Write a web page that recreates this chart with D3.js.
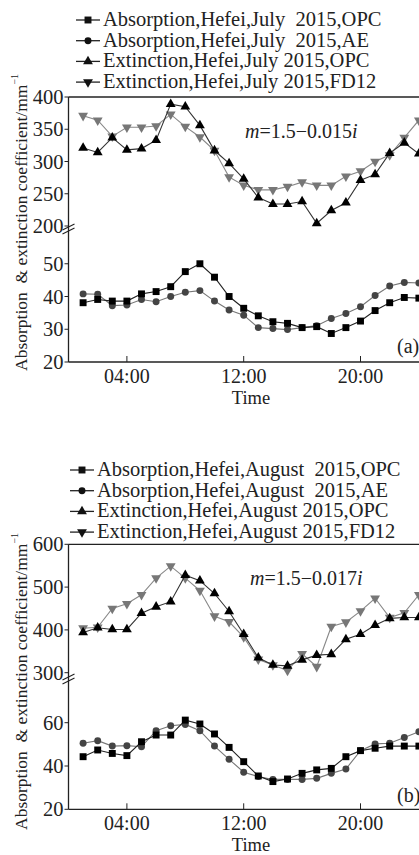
<!DOCTYPE html>
<html><head><meta charset="utf-8">
<script src="https://cdn.jsdelivr.net/npm/d3@7"></script>
<style>
html,body{margin:0;padding:0;background:#fff;}
svg{display:block;font-family:"Liberation Serif","Times New Roman",serif;}
text{white-space:pre;}
</style></head>
<body>
<svg id="c" width="419" height="855"></svg>
<script>
const hours = d3.range(1, 25);
const xTicks = [4, 12, 20];
const xTickLabels = ["04:00", "12:00", "20:00"];

// Panel (a) July
const aAbsOPC = [38.1,39.1,38.6,38.6,40.8,41.5,43.0,47.6,50.0,45.9,40.0,36.4,34.1,32.3,31.8,30.5,30.8,28.7,30.5,32.5,35.7,38.1,39.7,39.5];
const aAbsAE  = [40.8,40.7,37.2,37.4,39.1,38.4,40.0,41.3,41.8,38.6,35.9,34.3,30.5,30.2,29.9,30.5,31.1,33.3,34.8,36.9,40.3,43.2,44.3,44.1];
const aExtOPC = [321,314,337,318,320,333,389,385,356,317,297,273,244,234,234,238,204,224,236,271,280,313,329,312];
const aExtFD12= [371,364,339,353,353,355,373,354,338,317,276,263,256,256,261,268,263,263,277,285,300,310,337,364];
const aLegend = ["Absorption,Hefei,July  2015,OPC","Absorption,Hefei,July  2015,AE","Extinction,Hefei,July 2015,OPC","Extinction,Hefei,July 2015,FD12"];
const aUpperTicks = [200,250,300,350,400];
const aLowerTicks = [20,30,40,50];

// Panel (b) August
const bAbsOPC = [44.3,47.4,45.8,44.8,51.2,54.3,54.3,61.2,59.4,54.8,48.6,42.0,35.4,32.8,34.0,36.6,38.2,38.9,44.3,47.1,48.2,49.2,49.2,49.2];
const bAbsAE  = [50.5,51.7,49.2,49.4,48.9,56.3,58.6,59.2,56.3,49.2,43.1,37.1,35.1,33.8,33.8,33.8,34.3,36.6,38.6,47.1,50.2,50.5,53.2,55.8];
const bExtOPC = [394,405,401,401,439,454,466,528,515,485,443,390,335,318,316,330,341,343,378,390,411,427,429,429];
const bExtFD12= [404,406,450,461,482,521,549,521,492,432,419,383,331,318,305,344,314,408,418,444,474,429,440,482];
const bLegend = ["Absorption,Hefei,August  2015,OPC","Absorption,Hefei,August  2015,AE","Extinction,Hefei,August 2015,OPC","Extinction,Hefei,August 2015,FD12"];
const bUpperTicks = [300,400,500,600];
const bLowerTicks = [20,40,60];

const svg = d3.select("#c");

const styles = [
  {sym: d3.symbolSquare, size: 48, fill: "#000", line: "#222"},
  {sym: d3.symbolCircle, size: 38, fill: "#444", line: "#777"},
  {sym: d3.symbolTriangle, size: 42, fill: "#000", line: "#333", rot: 0},
  {sym: d3.symbolTriangle, size: 42, fill: "#777", line: "#888", rot: 180}
];

function panel(cfg) {
  const g = svg.append("g");
  const x = d3.scaleLinear().domain([0, 25]).range([68.5, 433.5]);
  const yU = d3.scaleLinear().domain(cfg.upperDomain).range(cfg.upperRange);
  const yL = d3.scaleLinear().domain(cfg.lowerDomain).range(cfg.lowerRange);

  // frame
  g.append("line").attr("x1", x(0)).attr("x2", x(25)).attr("y1", cfg.upperRange[1]).attr("y2", cfg.upperRange[1]).attr("stroke", "#222").attr("stroke-width", 1.3);
  g.append("line").attr("x1", x(0)).attr("x2", x(25)).attr("y1", cfg.lowerRange[0]).attr("y2", cfg.lowerRange[0]).attr("stroke", "#222").attr("stroke-width", 1.3);
  g.append("line").attr("x1", x(0)).attr("x2", x(0)).attr("y1", cfg.upperRange[1]).attr("y2", cfg.lowerRange[0]).attr("stroke", "#222").attr("stroke-width", 1.3);

  // break mark
  const by = cfg.breakY;
  [0, 4].forEach(d => {
    g.append("line").attr("x1", x(0) - 6).attr("y1", by + 3 + d).attr("x2", x(0) + 6).attr("y2", by - 3 + d).attr("stroke", "#222").attr("stroke-width", 1.2);
  });

  // y ticks
  const yt = (ticks, sc) => ticks.forEach(t => {
    g.append("line").attr("x1", x(0) - 4).attr("x2", x(0)).attr("y1", sc(t)).attr("y2", sc(t)).attr("stroke", "#222");
    g.append("text").attr("x", x(0) - 5).attr("y", sc(t) + 7).attr("text-anchor", "end").attr("font-size", 20.5).attr("fill", "#222").text(t);
  });
  yt(cfg.upperTicks, yU);
  yt(cfg.lowerTicks, yL);

  // x ticks
  xTicks.forEach((t, i) => {
    g.append("line").attr("x1", x(t)).attr("x2", x(t)).attr("y1", cfg.lowerRange[0]).attr("y2", cfg.lowerRange[0] - 6).attr("stroke", "#222");
    g.append("text").attr("x", x(t)).attr("y", cfg.lowerRange[0] + 20.5).attr("text-anchor", "middle").attr("font-size", 20).attr("fill", "#222").text(xTickLabels[i]);
  });
  g.append("text").attr("x", x(12.5)).attr("y", cfg.lowerRange[0] + 41.5).attr("text-anchor", "middle").attr("font-size", 18.5).attr("fill", "#222").text("Time");

  // y title
  const yt2 = g.append("text").attr("transform", `translate(27,${cfg.titleStart}) rotate(-90)`).attr("font-size", 17.5).attr("fill", "#222");
  yt2.append("tspan").text("Absorption  & extinction coefficient/mm");
  yt2.append("tspan").attr("dy", -9).attr("font-size", 10).text("−1");

  // series
  const series = [
    {v: cfg.absOPC, y: yL, s: styles[0]},
    {v: cfg.absAE, y: yL, s: styles[1]},
    {v: cfg.extOPC, y: yU, s: styles[2]},
    {v: cfg.extFD12, y: yU, s: styles[3]}
  ];
  const order = [1, 0, 3, 2];
  order.forEach(k => {
    const se = series[k];
    const line = d3.line().x((d, i) => x(hours[i])).y(d => se.y(d));
    g.append("path").attr("d", line(se.v)).attr("fill", "none").attr("stroke", se.s.line).attr("stroke-width", 1.1);
    g.selectAll(null).data(se.v).enter().append("path")
      .attr("d", d3.symbol().type(se.s.sym).size(se.s.size))
      .attr("transform", (d, i) => `translate(${x(hours[i])},${se.y(d)}) rotate(${se.s.rot || 0})`)
      .attr("fill", se.s.fill);
  });

  // legend
  cfg.legend.forEach((lab, i) => {
    const ly = cfg.legendY + i * 20.7;
    const s = styles[i];
    g.append("line").attr("x1", cfg.legendX).attr("x2", cfg.legendX + 24).attr("y1", ly - 6).attr("y2", ly - 6).attr("stroke", "#222").attr("stroke-width", 1.3);
    g.append("path").attr("d", d3.symbol().type(s.sym).size(s.size)).attr("transform", `translate(${cfg.legendX + 12},${ly - 6}) rotate(${s.rot || 0})`).attr("fill", "#111");
    g.append("text").attr("x", cfg.legendX + 27).attr("y", ly).attr("font-size", 20.5).attr("fill", "#222").text(lab);
  });

  // annotation
  const an = g.append("text").attr("x", cfg.annX).attr("y", cfg.annY).attr("font-size", 20).attr("fill", "#222");
  an.append("tspan").attr("font-style", "italic").text("m");
  an.append("tspan").text("=1.5−" + cfg.annVal);
  an.append("tspan").attr("font-style", "italic").text("i");

  g.append("text").attr("x", 397).attr("y", cfg.tagY).attr("font-size", 20).attr("fill", "#222").text(cfg.tag);
}

panel({
  upperDomain: [200, 400], upperRange: [226, 97],
  lowerDomain: [20, 60], lowerRange: [362, 231],
  breakY: 227, upperTicks: aUpperTicks, lowerTicks: aLowerTicks,
  absOPC: aAbsOPC, absAE: aAbsAE, extOPC: aExtOPC, extFD12: aExtFD12,
  legend: aLegend, legendX: 76, legendY: 26,
  annX: 245, annY: 138, annVal: "0.015", tag: "(a)", tagY: 353,
  titleStart: 371
});
panel({
  upperDomain: [300, 600], upperRange: [672.7, 544.3],
  lowerDomain: [20, 80], lowerRange: [809.3, 679.4],
  breakY: 677, upperTicks: bUpperTicks, lowerTicks: bLowerTicks,
  absOPC: bAbsOPC, absAE: bAbsAE, extOPC: bExtOPC, extFD12: bExtFD12,
  legend: bLegend, legendX: 70, legendY: 476,
  annX: 250, annY: 585, annVal: "0.017", tag: "(b)", tagY: 802,
  titleStart: 830
});
</script>
</body></html>
